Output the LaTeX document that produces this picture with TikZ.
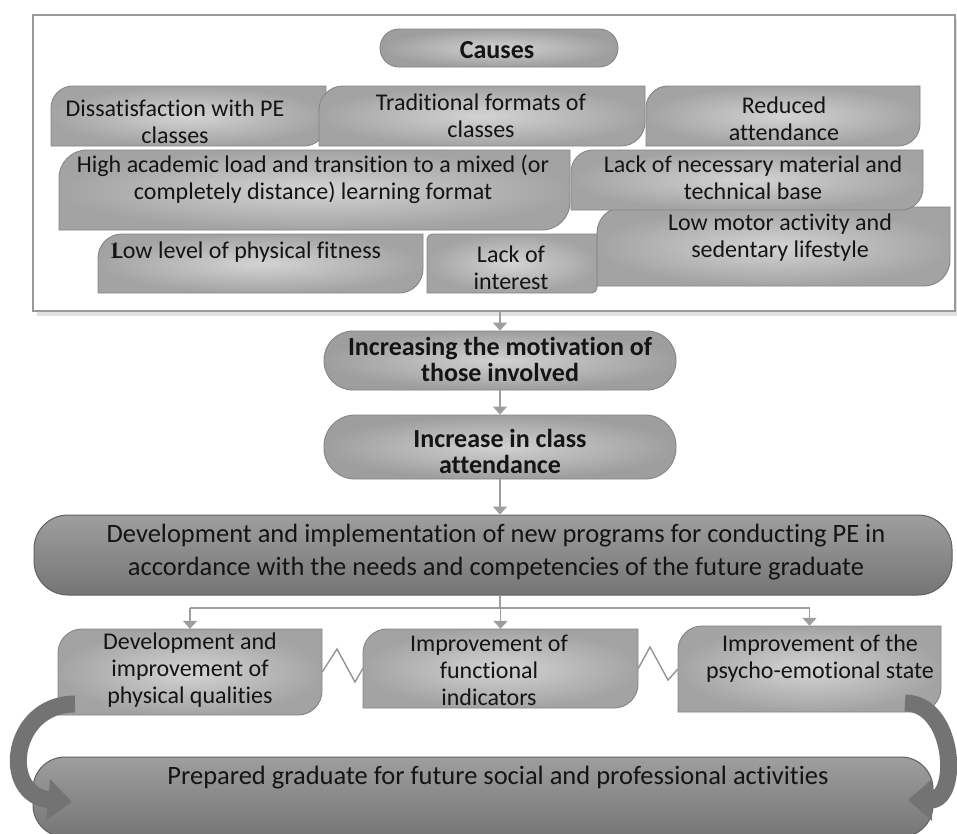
\documentclass[tikz,border=0pt]{standalone}
\usepackage{fontspec}
\setmainfont{Carlito}[Ligatures=NoCommon]
\newfontfamily\serifI{Liberation Serif}
\usetikzlibrary{arrows.meta,calc}
\tikzset{
  boxshade/.style={inner color=black!17, outer color=black!36, draw=black!48, line width=0.9pt},
  pillshade/.style={inner color=black!18, outer color=black!38, draw=black!48, line width=0.9pt, inner sep=0pt},
  darkshade/.style={top color=black!38, bottom color=black!54, draw=black!62, line width=1pt, inner sep=0pt},
  anchorbox/.style={inner sep=0pt, draw=none},
  txt/.style={align=center, font=\fontsize{24}{27}\selectfont, text=black!92, inner sep=0pt},
  btxt/.style={align=center, font=\fontsize{26}{26}\selectfont\bfseries, text=black!92, inner sep=0pt},
  conn/.style={draw=black!38, line width=1.8pt, -{Triangle[width=14pt,length=8pt]}},
  plainconn/.style={draw=black!38, line width=1.8pt},
  zig/.style={draw=black!42, line width=1.4pt},
  ribbon/.style={draw=black!55, line width=17pt, -{Triangle[width=40pt,length=24pt]}},
}
% name, x1, y1, x2, y2, radius (pixel units, y downwards)
\newcommand\dbox[6]{%
  \path[boxshade] (#2,#5) -- (#2,{#3+#6}) .. controls (#2,{#3+0.448*#6}) and ({#2+0.448*#6},#3) .. ({#2+#6},#3)
     -- (#4,#3) -- (#4,{#5-#6}) .. controls (#4,{#5-0.448*#6}) and ({#4-0.448*#6},#5) .. ({#4-#6},#5) -- cycle;
  \node[anchorbox, minimum width={(#4-#2)*1pt}, minimum height={(#5-#3)*1pt}] (#1)
     at ({(#2+#4)/2},{(#3+#5)/2}) {};
}
\begin{document}
\begin{tikzpicture}[x=1pt,y=-1pt]
\useasboundingbox (0,0) rectangle (957,833);
\clip (0,0) rectangle (957,833);
\fill[white] (0,0) rectangle (957,833);

% ---- causes frame
\fill[black!12] (37,19) rectangle (960,316);
\node[draw=black!40, line width=1.6pt, fill=white, inner sep=0pt,
      minimum width=922pt, minimum height=296pt] (frame) at (494,163) {};

\node[pillshade, rounded corners=19pt, minimum width=238pt, minimum height=38pt] (causes) at (499,48) {};
\node[btxt] (causesT) at (497,50) {Causes};

% row 1
\dbox{c1}{51}{86}{326}{146}{22}
\dbox{c2}{319}{86}{645}{146}{24}
\dbox{c3}{646}{86}{920}{146}{22}
% row 3 (lower boxes first)
\dbox{c7}{597}{207}{950}{286}{26}
\dbox{c6}{427}{234}{597}{293}{6}
\dbox{c5}{98}{234}{423}{293}{24}
% row 2
\dbox{c4}{59}{150}{570}{230}{28}
\dbox{c8}{571}{150}{923}{210}{22}

\node[txt] (c1T) at (175,121.5) {Dissatisfaction with PE\\classes};
\node[txt] (c2T) at (481,115.5) {Traditional formats of\\classes};
\node[txt] (c3T) at (784,118.5) {Reduced\\attendance};
\node[txt] (c4T) at (313,179) {High academic load and transition to a mixed (or\\completely distance) learning format};
\node[txt] (c8T) at (753,177.5) {Lack of necessary material and\\technical base};
\node[txt] (c5T) at (247,252) {\llap{{\serifI\fontsize{22}{22}\selectfont I}\kern-5pt}Low level of physical fitness};
\node[txt] (c6T) at (511,267.5) {Lack of\\interest};
\node[txt] (c7T) at (780,237.5) {Low motor activity and\\sedentary lifestyle};

% ---- vertical chain
\node[pillshade, rounded corners=29pt, minimum width=352pt, minimum height=59pt] (mot) at (500,360.5) {};
\node[btxt] (motT) at (500,359) {Increasing the motivation of\\those involved};
\node[pillshade, rounded corners=31pt, minimum width=352pt, minimum height=64pt] (att) at (500,447) {};
\node[btxt] (attT) at (500,451) {Increase in class\\attendance};

\node[darkshade, rounded corners=34pt, minimum width=918pt, minimum height=80pt] (dev) at (493,555) {};
\node[txt, font=\fontsize{26.5}{33}\selectfont] (devT) at (496,552)
  {Development and implementation of new programs for conducting PE in\\accordance with the needs and competencies of the future graduate};

\draw[conn] (frame.south -| mot.north) -- (mot.north);
\draw[conn] (mot.south) -- (att.north);
\draw[conn] (att.south) -- (att.south |- dev.north);

% ---- outcomes
\dbox{b1}{58}{629}{322}{715}{24}
\dbox{b2}{363}{629}{638}{708}{24}
\dbox{b3}{678}{626}{941}{712}{24}
\node[txt] (b1T) at (190,670) {Development and\\improvement of\\physical qualities};
\node[txt] (b2T) at (489,670) {Improvement of\\functional\\indicators};
\node[txt] (b3T) at (820,658.5) {Improvement of the\\psycho-emotional state};

\coordinate (br) at (500,608);
\draw[plainconn] (dev.south -| br) -- (br);
\draw[plainconn] (b1.north |- br) -- (b3.north |- br);
\draw[conn] (b1.north |- br) -- (b1.north);
\draw[conn] (b2.north |- br) -- (b2.north);
\draw[conn] (b3.north |- br) -- (b3.north);

\draw[zig] (b1.east) -- (337,649) -- (355,682) -- (b2.west);
\draw[zig] (b2.east) -- (650,647) -- (668,680) -- (b3.west);

% ---- final
\node[darkshade, rounded corners=32pt, minimum width=900pt, minimum height=80pt] (prep) at (483,797) {};
\node[txt, font=\fontsize{26.5}{30}\selectfont] (prepT) at (498,778) {Prepared graduate for future social and professional activities};

\coordinate (rL0) at (75,704);
\coordinate (rL1) at (72,802);
\coordinate (rR0) at (905,703);
\coordinate (rR1) at (908,800);
\draw[ribbon] (rL0) .. controls (10,704) and (0,795) .. (rL1);
\draw[ribbon] (rR0) .. controls (955,703) and (960,800) .. (rR1);
\end{tikzpicture}
\end{document}
